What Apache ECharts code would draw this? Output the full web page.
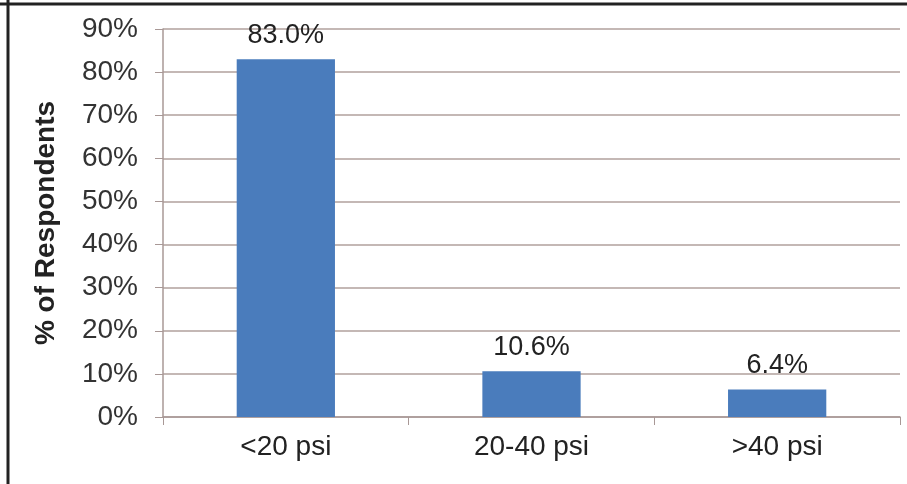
<!DOCTYPE html>
<html><head><meta charset="utf-8">
<script src="https://cdn.jsdelivr.net/npm/echarts@6/dist/echarts.min.js"></script>
<style>html,body{margin:0;padding:0;background:#fff}#c{width:907px;height:484px}</style>
</head><body><div id="c"></div>
<script>
var categories = ['<20 psi', '20-40 psi', '>40 psi'];
var values = [83.0, 10.6, 6.4];
var yTicks = [0, 10, 20, 30, 40, 50, 60, 70, 80, 90];

var chart = echarts.init(document.getElementById('c'));
chart.setOption({
  animation: false,
  backgroundColor: '#fff',
  graphic: [
    {type: 'line', shape: {x1: 0, y1: 4, x2: 907, y2: 4}, style: {stroke: '#222', lineWidth: 3}},
    {type: 'line', shape: {x1: 8, y1: 0, x2: 8, y2: 484}, style: {stroke: '#222', lineWidth: 3}}
  ],
  grid: {left: 163, right: 7, top: 29, bottom: 67},
  xAxis: {
    type: 'category', data: categories,
    axisLine: {lineStyle: {color: '#a89896', width: 1.5}},
    axisTick: {show: true, length: 8, lineStyle: {color: '#a89896'}},
    axisLabel: {color: '#222', fontSize: 28, fontFamily: 'Liberation Sans, Arial', margin: 16}
  },
  yAxis: {
    type: 'value', min: 0, max: 90, interval: 10,
    name: '% of Respondents', nameLocation: 'middle', nameGap: 103,
    nameTextStyle: {color: '#222', fontSize: 28, fontWeight: 'bold', fontFamily: 'Liberation Sans, Arial'},
    axisLine: {show: true, lineStyle: {color: '#a89896', width: 1.5}},
    axisTick: {show: true, length: 8, lineStyle: {color: '#a89896'}},
    splitLine: {lineStyle: {color: '#b0a09d', width: 1.5}},
    axisLabel: {color: '#333', fontSize: 28, fontFamily: 'Liberation Sans, Arial', margin: 25,
      formatter: function (v) { return yTicks.indexOf(v) >= 0 ? v + '%' : ''; }}
  },
  series: [{
    type: 'bar', data: values, barWidth: '40%',
    itemStyle: {color: '#4a7cbc'},
    label: {show: true, position: 'top', distance: 10, color: '#222', fontSize: 27,
      fontFamily: 'Liberation Sans, Arial', formatter: function (p) { return p.value.toFixed(1) + '%'; }}
  }]
});
</script></body></html>
